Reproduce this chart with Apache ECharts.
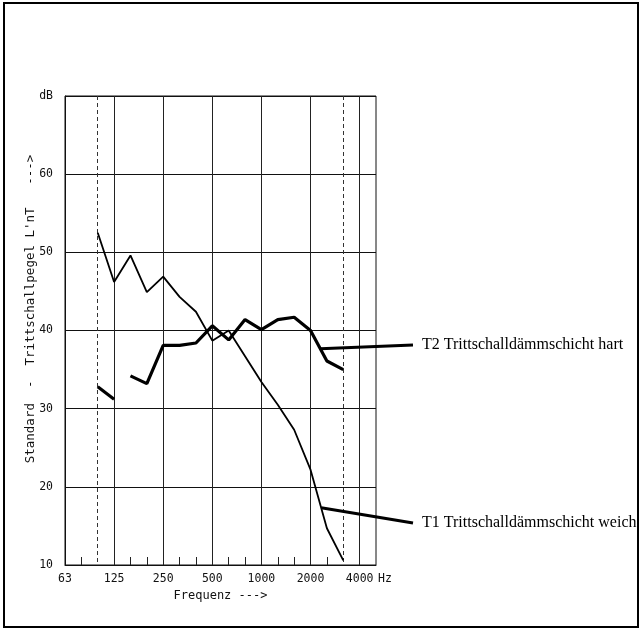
<!DOCTYPE html>
<html><head><meta charset="utf-8">
<script src="https://cdn.jsdelivr.net/npm/echarts@6/dist/echarts.min.js"></script>
<style>html,body{margin:0;padding:0;background:#fff}#c{width:642px;height:630px}</style>
</head><body><div id="c"></div>
<script>
// third-octave bands (Hz)
const bands = ['63','80','100','125','160','200','250','315','400','500','630','800','1000','1250','1600','2000','2500','3150','4000','5000'];
const octaveLabels = ['63','125','250','500','1000','2000','4000'];
const minorTickBands = ['80','160','200','315','400','630','800','1250','1600','2500'];
const solidGridBands = ['125','250','500','1000','2000','4000'];
const dashedGridBands = ['100','3150'];
// dB values
const t1Values = [null,null,52.5,46.2,49.6,44.9,46.9,44.3,42.4,38.7,40.0,36.7,33.4,30.5,27.3,22.2,14.7,10.6,null,null];
const t2Values = [null,null,32.8,31.2,34.2,33.2,38.1,38.1,38.4,40.6,38.8,41.4,40.1,41.4,41.7,40.0,36.1,35.0,null,null];
const t2BreakAfter = '125';
const seriesNames = ['T1 Trittschalldämmschicht weich','T2 Trittschalldämmschicht hart'];
// band position (fractional index) where each label's leader leaves its curve
const leaderAt = [15.65, 15.6];

const chart = echarts.init(document.getElementById('c'), null, {renderer:'canvas'});
const breakIdx = bands.indexOf(t2BreakAfter);
const t2a = t2Values.map((v,i)=> i<=breakIdx ? v : null);
const t2b = t2Values.map((v,i)=> i>breakIdx ? v : null);
const mono = 'DejaVu Sans Mono';

chart.setOption({
  animation:false,
  backgroundColor:'#fff',
  grid:{left:65, top:96, right:266, bottom:65, show:true, borderColor:'#111', borderWidth:1, backgroundColor:'transparent'},
  xAxis:[{
    type:'category', data:bands, boundaryGap:false,
    axisLine:{show:true, lineStyle:{color:'#111', width:1}},
    axisTick:{show:true, inside:true, length:8, lineStyle:{color:'#222'}, interval:(i,v)=>minorTickBands.includes(v)},
    axisLabel:{interval:(i,v)=>octaveLabels.includes(v), margin:8, fontFamily:mono, fontSize:11.5, color:'#111'},
    splitLine:{show:true, interval:(i,v)=>solidGridBands.includes(v), lineStyle:{color:'#222', width:1}},
    name:'Frequenz --->', nameLocation:'middle', nameGap:21,
    nameTextStyle:{fontFamily:mono, fontSize:12, color:'#111'}
  },{
    type:'category', data:bands, boundaryGap:false, position:'bottom',
    axisLine:{show:false}, axisTick:{show:false}, axisLabel:{show:false},
    splitLine:{show:true, interval:(i,v)=>dashedGridBands.includes(v), lineStyle:{color:'#333', width:1, type:[4,3]}}
  }],
  yAxis:{
    type:'value', min:10, max:70, interval:10,
    axisLine:{show:true, lineStyle:{color:'#111'}},
    axisTick:{show:false},
    axisLabel:{margin:12, fontFamily:mono, fontSize:11.5, color:'#111', formatter:v=> v===70?'dB':String(v)},
    splitLine:{show:true, lineStyle:{color:'#111', width:1}}
  },
  series:[
    {name:seriesNames[0], type:'line', data:t1Values, symbol:'none', connectNulls:false, lineStyle:{color:'#000', width:1.8}, z:3},
    {name:seriesNames[1], type:'line', data:t2a, symbol:'none', connectNulls:false, lineStyle:{color:'#000', width:3.2}, z:4},
    {name:seriesNames[1], type:'line', data:t2b, symbol:'none', connectNulls:false, lineStyle:{color:'#000', width:3.2}, z:4}
  ]
});

function interp(vals, fi){
  const i0=Math.floor(fi), i1=Math.ceil(fi), f=fi-i0;
  return vals[i0] + (vals[i1]-vals[i0])*f;
}
function toPx(fi, db){
  const i0=Math.floor(fi), i1=Math.ceil(fi), f=fi-i0;
  const p0=chart.convertToPixel({xAxisIndex:0,yAxisIndex:0},[i0,db]);
  const p1=chart.convertToPixel({xAxisIndex:0,yAxisIndex:0},[i1,db]);
  return [p0[0]+(p1[0]-p0[0])*f, p0[1]];
}
const labelX = 413;
const labelY = [523, 345];
const curves = [t1Values, t2Values];
const graphics = [
  {type:'rect', shape:{x:4, y:3, width:634, height:624}, style:{fill:'none', stroke:'#000', lineWidth:2}, z:100},
  {type:'text', x:378, y:579, style:{text:'Hz', font:'11.5px "'+mono+'"', fill:'#111', textAlign:'left', textVerticalAlign:'middle'}},
  {type:'text', x:31, y:309, rotation:Math.PI/2, style:{text:"Standard  -  Trittschallpegel L'nT   --->", font:'12.5px "'+mono+'"', fill:'#111', textAlign:'center', textVerticalAlign:'middle'}}
];
for (let k=0;k<2;k++){
  const db = interp(curves[k], leaderAt[k]);
  const p = toPx(leaderAt[k], db);
  graphics.push({type:'line', shape:{x1:p[0], y1:p[1], x2:labelX, y2:labelY[k]}, style:{stroke:'#000', lineWidth:3}, z:50});
  graphics.push({type:'text', x:labelX+9, y:labelY[k], style:{text:seriesNames[k], font:'16px "Liberation Serif"', fill:'#000', textAlign:'left', textVerticalAlign:'middle'}, z:50});
}
chart.setOption({graphic:graphics});
</script>
</body></html>
